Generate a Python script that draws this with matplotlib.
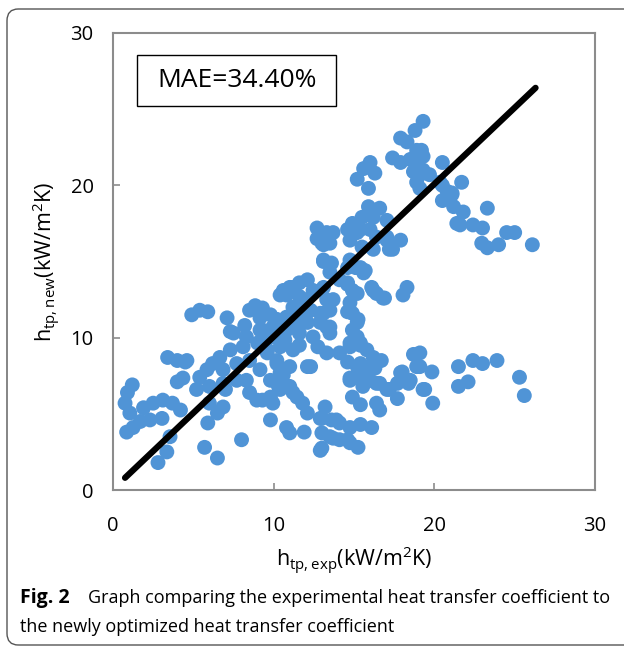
import numpy as np
import matplotlib
matplotlib.use("Agg")
import matplotlib.pyplot as plt
from matplotlib.patches import Rectangle, FancyBboxPatch

plt.rcParams['font.family'] = ['Open Sans', 'DejaVu Sans']
plt.rcParams['mathtext.default'] = 'regular'

# experimental h_tp (kW/m2K)
h_exp = [
    1.2, 0.9, 0.75, 1.05, 1.9, 2.5, 3.1, 3.7, 4.2, 2.3, 3.05, 1.7, 0.85, 1.25, 3.55, 4.0,
    3.35, 2.8, 5.7, 6.5, 5.2, 6.0, 6.5, 5.9, 6.85, 7.0,
    4.9, 5.4, 5.9, 7.1, 8.5, 9.3, 8.2, 7.3, 3.4, 4.0, 4.5, 8.0,
    10.4, 10.8, 7.5, 8.3, 9.15, 9.95, 10.8, 11.2, 7.3, 8.1, 9.0, 9.6, 6.65, 6.2, 5.85, 5.4,
    6.85, 7.7, 8.5, 9.15, 4.6, 4.35, 6.0, 6.85, 7.7, 8.3, 10.2, 10.4, 11.0, 9.8, 10.4, 11.0,
    11.45, 9.95, 8.95, 8.5,
    15.9, 16.6, 15.5, 16.2, 17.05, 12.7, 13.3, 13.7, 14.6, 14.75, 15.2, 13.0, 13.5, 16.4, 17.05, 17.2,
    15.5, 16.2, 13.1, 13.6, 13.5, 14.6, 15.1, 15.7, 12.1, 11.6, 11.0, 14.1, 14.6, 14.9, 16.1, 16.4,
    16.9, 18.05, 14.75, 14.6, 15.25, 14.9, 13.3, 13.5, 12.9, 12.3, 11.6, 12.1, 12.9, 13.5, 11.45, 15.2,
    13.7,
    19.3, 18.8, 17.9, 18.3, 18.9, 17.4, 17.9, 18.5, 18.9, 19.3, 18.7, 19.7, 20.5, 20.35, 18.9, 19.1,
    16.0, 15.6, 16.3, 15.2, 15.9, 20.8, 21.1, 20.5, 21.2, 21.4, 14.9, 15.4, 16.0, 17.9, 17.4, 17.05,
    12.7, 13.1, 13.1, 14.75, 15.4, 15.6, 11.2, 10.6, 18.3,
    19.2, 19.3, 19.1, 20.5, 21.7, 21.1, 21.8, 23.3, 21.6, 22.4, 23.0, 22.95, 23.3, 24.0, 24.5, 25.0,
    26.1,
    21.5, 22.4, 23.0, 23.9, 22.1, 21.5, 25.3, 25.6, 19.85, 19.4, 19.9, 19.1, 19.1,
    13.1, 14.6, 15.2, 16.2, 16.8, 14.9, 15.2, 13.1, 13.3, 13.5, 12.45, 11.6, 10.8, 9.95, 9.3, 9.6,
    10.4, 11.2, 10.2, 12.1, 10.6, 9.8, 12.75, 13.3, 14.1, 14.75, 15.4, 15.8, 16.2, 16.7, 14.6, 15.2,
    15.8, 16.3, 14.75, 15.4, 16.0, 16.6, 14.9, 15.4, 16.4, 16.6, 17.2, 17.7, 18.0, 18.7, 18.9, 18.4,
    19.3, 10.3, 11.2, 11.8, 12.1, 9.3, 9.8, 10.8, 11.0, 11.9, 13.2, 13.0, 13.6, 14.1, 14.75, 15.4,
    16.1, 13.0, 13.5, 14.1, 14.75, 15.25, 12.9,
    14.75, 15.4, 15.4, 14.75, 15.55, 16.4, 17.05, 17.7, 17.9, 18.5, 12.3, 12.9, 13.9, 13.7, 14.6, 13.0,
    9.15, 9.8, 8.85, 9.5, 10.7, 11.6, 10.2, 11.3, 11.9, 12.45, 11.6,
]
# newly optimized h_tp (kW/m2K)
h_new = [
    6.9, 6.4, 5.7, 5.05, 5.4, 5.7, 5.9, 5.7, 5.25, 4.6, 4.7, 4.5, 3.8, 4.1, 3.5, 7.1,
    2.5, 1.8, 2.8, 2.1, 6.6, 5.7, 5.05, 4.4, 5.45, 6.6,
    11.5, 11.8, 11.7, 11.3, 11.8, 11.95, 10.8, 10.4, 8.7, 8.5, 8.4, 3.3,
    12.8, 12.8, 10.3, 10.05, 10.5, 10.7, 11.35, 12.0, 9.2, 9.4, 9.65, 9.0, 8.7, 8.3, 7.9, 7.4,
    7.9, 8.3, 8.5, 7.9, 8.5, 7.35, 6.8, 7.0, 7.2, 7.2, 8.5, 7.7, 8.1, 6.1, 6.6, 6.8,
    6.1, 5.7, 5.9, 6.4,
    18.6, 18.5, 17.9, 17.9, 17.7, 17.2, 16.9, 16.9, 17.1, 16.4, 16.9, 16.2, 16.2, 16.6, 16.4, 15.8,
    15.95, 15.8, 15.0, 14.9, 14.3, 14.6, 14.6, 14.4, 13.8, 13.6, 13.3, 13.8, 13.5, 13.1, 13.3, 12.9,
    12.6, 12.8, 12.3, 11.7, 11.2, 10.5, 12.5, 11.8, 11.6, 11.8, 11.6, 11.0, 11.0, 10.7, 10.7, 10.05,
    12.5,
    24.2, 23.6, 23.1, 22.85, 22.3, 21.8, 21.5, 21.7, 21.3, 21.0, 20.9, 20.7, 21.5, 20.2, 20.2, 19.8,
    21.5, 21.1, 20.8, 20.4, 19.8, 19.6, 19.4, 19.0, 18.6, 17.5, 17.5, 17.1, 17.1, 16.4, 15.8, 16.6,
    16.5, 16.1, 15.1, 15.1, 14.6, 14.25, 13.3, 13.1, 13.3,
    22.3, 21.9, 20.7, 20.0, 20.2, 19.5, 18.25, 18.5, 17.4, 17.4, 17.2, 16.2, 15.9, 16.1, 16.9, 16.9,
    16.1,
    8.1, 8.5, 8.3, 8.5, 7.1, 6.8, 7.4, 6.2, 7.75, 6.6, 5.7, 8.1, 9.0,
    13.3, 13.6, 12.9, 13.1, 12.6, 11.6, 11.0, 11.6, 10.7, 10.3, 10.05, 10.3, 10.5, 10.05, 10.5, 9.2,
    9.4, 9.2, 8.3, 8.1, 7.55, 7.2, 9.4, 9.0, 9.0, 9.4, 9.5, 9.2, 8.7, 8.5, 8.4, 8.1,
    8.0, 8.0, 7.35, 7.4, 7.2, 7.0, 6.1, 5.6, 5.7, 5.25, 6.6, 6.0, 7.75, 8.9, 8.1, 7.0,
    6.6, 6.8, 6.4, 5.7, 5.05, 5.9, 4.6, 4.1, 3.75, 3.8, 5.45, 4.7, 4.6, 4.4, 4.1, 4.3,
    4.1, 3.75, 3.5, 3.3, 3.1, 2.8, 2.6,
    9.65, 9.65, 8.3, 7.2, 6.8, 7.0, 6.6, 7.0, 7.7, 7.2, 8.1, 4.7, 4.6, 3.4, 3.3, 2.75,
    11.3, 11.5, 12.1, 9.85, 9.85, 9.5, 11.2, 11.0, 12.5, 13.1, 12.7,
]

# black parity line
line_x = [0.75, 26.3]
line_y = [0.8, 26.4]

ticks = [0, 10, 20, 30]

fig = plt.figure(figsize=(6.24, 6.47), dpi=100)

# outer rounded frame of the journal figure (right side runs off the page)
frame = FancyBboxPatch((7 / 624, 2 / 647), 700 / 624, 636 / 647,
                       boxstyle="round,pad=0,rounding_size=0.018",
                       transform=fig.transFigure, fill=False,
                       edgecolor='#555555', linewidth=1.0)
fig.patches.append(frame)

ax = fig.add_axes([113 / 624, 157 / 647, 482 / 624, 457 / 647])
ax.scatter(h_exp, h_new, s=115, color='#5094d6', edgecolors='none', zorder=2)
ax.plot(line_x, line_y, color='black', linewidth=4.5, solid_capstyle='round', zorder=3)

ax.set_xlim(0, 30)
ax.set_ylim(0, 30)
ax.set_xticks(ticks)
ax.set_yticks(ticks)
ax.tick_params(direction='in', length=5, width=1.2, color='#8c8c8c',
               labelsize=14.5, pad=14)
ax.tick_params(axis='x', pad=19)
for sp in ax.spines.values():
    sp.set_color('#8c8c8c')
    sp.set_linewidth(1.5)

ax.set_xlabel(r'h$_{tp,exp}$(kW/m$^{2}$K)', fontsize=15.5, labelpad=6)
ax.set_ylabel(r'h$_{tp,new}$(kW/m$^{2}$K)', fontsize=15.5, labelpad=6)

# MAE box
ax.add_patch(Rectangle((0.05, 0.84), 0.413, 0.112, transform=ax.transAxes,
                       fill=False, edgecolor='black', linewidth=1.0, zorder=4))
ax.text(0.2565, 0.896, 'MAE=34.40%', transform=ax.transAxes, ha='center',
        va='center', fontsize=19, zorder=5)

# caption
fig.text(20 / 624, 1 - 598 / 647, 'Fig. 2', fontsize=14, fontweight='bold',
         va='center', ha='left')
fig.text(88 / 624, 1 - 598 / 647,
         'Graph comparing the experimental heat transfer coefficient to',
         fontsize=13, va='center', ha='left')
fig.text(20 / 624, 1 - 627 / 647, 'the newly optimized heat transfer coefficient',
         fontsize=13, va='center', ha='left')

fig.savefig('out.png', dpi=100)
